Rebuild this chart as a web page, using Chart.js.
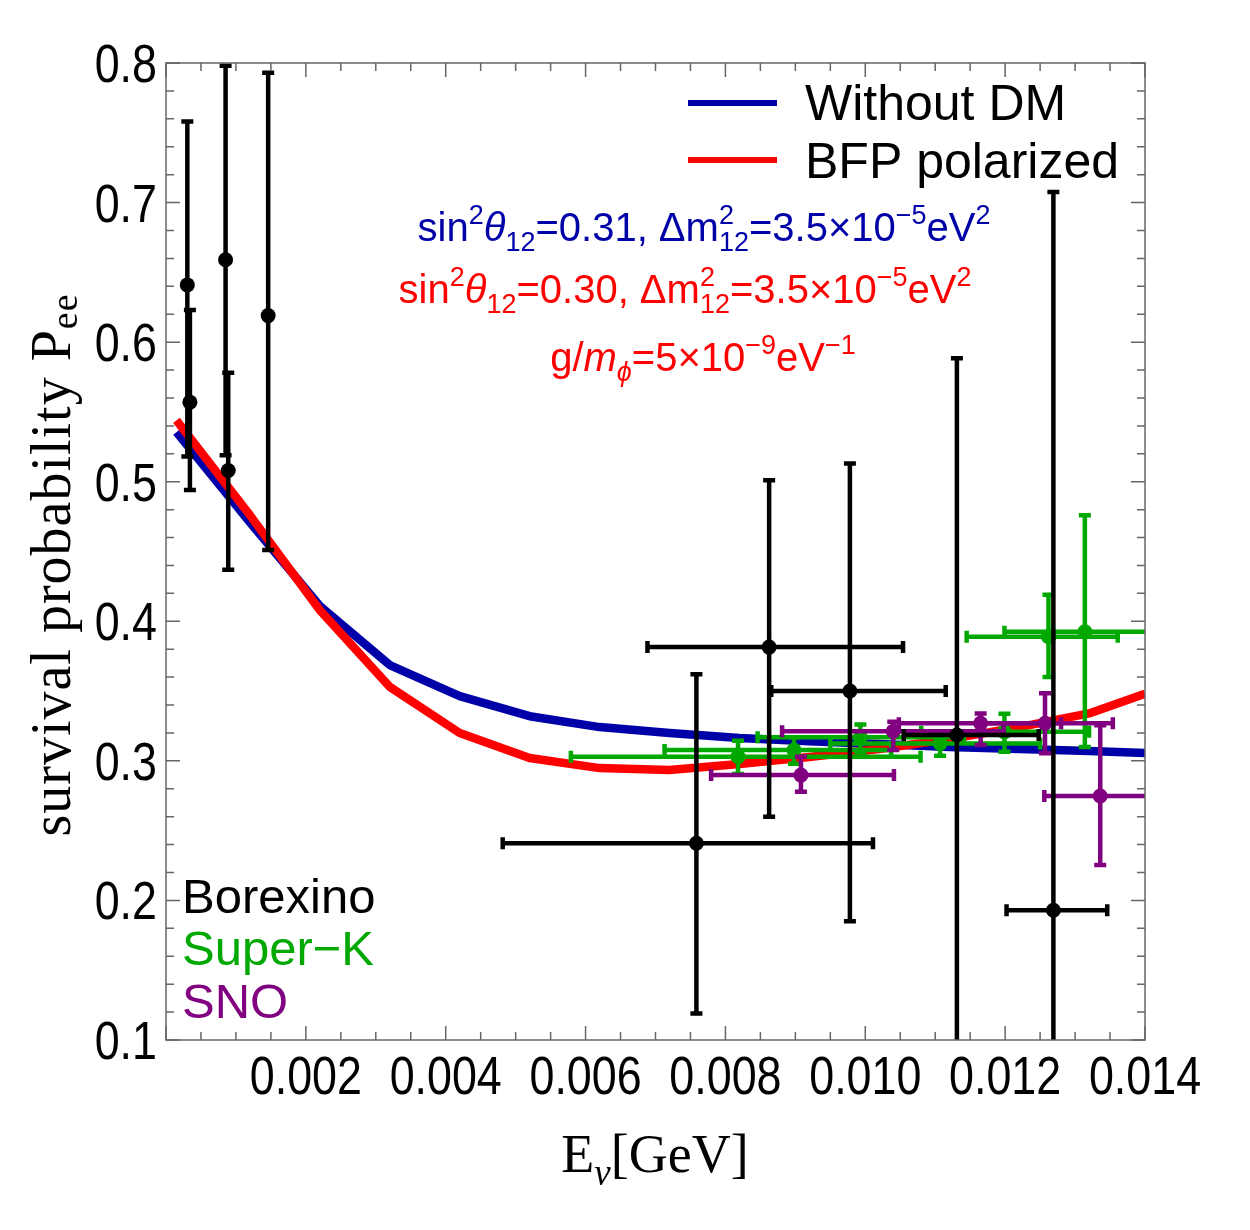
<!DOCTYPE html>
<html>
<head>
<meta charset="utf-8">
<script src="https://cdn.jsdelivr.net/npm/chart.js@4.4.0/dist/chart.umd.min.js"></script>
<style>
  html, body { margin: 0; padding: 0; background: #fff; }
</style>
</head>
<body>
<canvas id="chartPee" width="1250" height="1230"></canvas>
<script>
"use strict";

// model curves (E in GeV)
var curveE = [0.00015, 0.0012, 0.0022, 0.0032, 0.0042, 0.0052, 0.0062, 0.0072,
              0.0082, 0.0092, 0.0102, 0.0112, 0.0122, 0.0132, 0.014];
var withoutDM = [0.5355, 0.471, 0.411, 0.3686, 0.3464, 0.332, 0.3242, 0.32,
                 0.3163, 0.314, 0.312, 0.31, 0.3085, 0.307, 0.3056];
var bfpPolarized = [0.544, 0.476, 0.408, 0.353, 0.32, 0.302, 0.2948, 0.2934,
                    0.2977, 0.3027, 0.3085, 0.3156, 0.3242, 0.334, 0.348];

// Borexino
var borexinoE   = [0.000305, 0.000342, 0.000852, 0.00089, 0.001461, 0.007585, 0.008625, 0.00978, 0.01131, 0.01269];
var borexinoP   = [0.641, 0.557, 0.659, 0.508, 0.619, 0.241, 0.3815, 0.35, 0.3185, 0.193];
var borexinoPLo = [0.518, 0.494, 0.519, 0.437, 0.451, 0.119, 0.26, 0.185, 0.049, -0.32];
var borexinoPHi = [0.758, 0.623, 0.798, 0.578, 0.793, 0.362, 0.501, 0.513, 0.5885, 0.7075];
var borexinoELo = [null, null, null, null, null, 0.004815, 0.006885, 0.008655, 0.01055, 0.01202];
var borexinoEHi = [null, null, null, null, null, 0.01011, 0.01054, 0.01115, 0.01248, 0.01346];

// Super-K
var superkE   = [0.00818, 0.00898, 0.00993, 0.01107, 0.01199, 0.01262, 0.01314];
var superkP   = [0.303, 0.3077, 0.317, 0.3125, 0.3208, 0.389, 0.3925];
var superkPLo = [0.2905, 0.298, 0.306, 0.3037, 0.3065, 0.36, 0.31];
var superkPHi = [0.3144, 0.317, 0.326, 0.32, 0.3337, 0.419, 0.476];
var superkELo = [0.00579, 0.00713, 0.00846, 0.0095, 0.0108, 0.01145, 0.01199];
var superkEHi = [0.01079, 0.01037, 0.01141, 0.0125, 0.0132, 0.01361, 0.0143];

// SNO
var snoE   = [0.00908, 0.0104, 0.01165, 0.01257, 0.01336];
var snoP   = [0.2898, 0.3213, 0.3269, 0.3269, 0.2748];
var snoPLo = [0.2779, 0.3077, 0.3113, 0.3054, 0.2254];
var snoPHi = [0.303, 0.328, 0.334, 0.3484, 0.3256];
var snoELo = [0.007795, 0.00881, 0.01048, 0.01161, 0.01256];
var snoEHi = [0.01041, 0.01198, 0.0128, 0.01354, 0.01429];

var xTicks = [0.002, 0.004, 0.006, 0.008, 0.010, 0.012, 0.014];
var yTicks = [0.1, 0.2, 0.3, 0.4, 0.5, 0.6, 0.7, 0.8];

var BLUE = "#0000a8", RED = "#ff0000", GREEN = "#00a800", PURPLE = "#800080";
var SANS = "'Liberation Sans', Arial, sans-serif";
var SERIF = "'Liberation Serif', 'Times New Roman', serif";

function curvePoints(xs, ys) {
  return xs.map((x, i) => ({x: x, y: ys[i]}));
}

function errPoints(e, p, pLo, pHi, eLo, eHi) {
  return e.map((x, i) => ({
    x: x, y: p[i], yMin: pLo[i], yMax: pHi[i], xMin: eLo[i], xMax: eHi[i]
  }));
}

function pointSet(label, color, data) {
  return {
    label: label, data: data, showLine: false,
    pointRadius: 7.5, pointHoverRadius: 7.5, borderWidth: 0,
    backgroundColor: color, borderColor: color, errColor: color
  };
}

function curveSet(label, color, data) {
  return {
    label: label, data: data, showLine: true, pointRadius: 0,
    borderColor: color, backgroundColor: color, borderWidth: 8.5,
    tension: 0, borderJoinStyle: "round", clip: 0
  };
}

// rich text: parts = [[text, kind]], kind: "", "i", "sup", "sub", "isub", "stack"
function fontFor(kind, size, family) {
  var small = (kind === "sup" || kind === "sub" || kind === "isub" || kind === "stack");
  var s = small ? Math.round(size * 0.68) : size;
  var style = (kind === "i" || kind === "isub") ? "italic " : "";
  return style + s + "px " + family;
}

function partWidth(ctx, part, size, family) {
  ctx.font = fontFor(part[1], size, family);
  if (part[1] === "stack") {
    return Math.max(ctx.measureText(part[0][0]).width, ctx.measureText(part[0][1]).width);
  }
  return ctx.measureText(part[0]).width;
}

function drawRich(ctx, parts, x, y, size, color, family, subDrop) {
  var drop = subDrop == null ? 0.24 : subDrop;
  var total = parts.reduce((sum, p) => sum + partWidth(ctx, p, size, family), 0);
  var cx = x - total / 2;
  ctx.fillStyle = color;
  ctx.textBaseline = "alphabetic";
  ctx.textAlign = "left";
  parts.forEach(function(p) {
    var w = partWidth(ctx, p, size, family);
    ctx.font = fontFor(p[1], size, family);
    if (p[1] === "sup") {
      ctx.fillText(p[0], cx, y - size * 0.42);
    } else if (p[1] === "sub" || p[1] === "isub") {
      ctx.fillText(p[0], cx, y + size * drop);
    } else if (p[1] === "stack") {
      ctx.fillText(p[0][0], cx, y - size * 0.42);
      ctx.fillText(p[0][1], cx, y + size * drop);
    } else {
      ctx.fillText(p[0], cx, y);
    }
    cx += w;
  });
}

// condensed tick label, anchored by the scale's own pixel positions
function drawSquashed(ctx, text, x, y, align) {
  ctx.save();
  ctx.translate(x, y);
  ctx.scale(0.83, 1);
  ctx.font = "54px " + SANS;
  ctx.fillStyle = "#000";
  ctx.textAlign = align;
  ctx.textBaseline = "alphabetic";
  ctx.fillText(text, 0, 0);
  ctx.restore();
}

var errorBarPlugin = {
  id: "errorBars",
  beforeDatasetDraw: function(chart, args) {
    var ds = chart.data.datasets[args.index];
    if (!ds.errColor) return;
    var ctx = chart.ctx, xs = chart.scales.x, ys = chart.scales.y, a = chart.chartArea;
    var cap = 6;
    ctx.save();
    ctx.beginPath();
    ctx.rect(a.left, a.top, a.right - a.left, a.bottom - a.top);
    ctx.clip();
    ctx.strokeStyle = ds.errColor;
    ctx.lineWidth = 4.5;
    ds.data.forEach(function(d) {
      var px = xs.getPixelForValue(d.x), py = ys.getPixelForValue(d.y);
      var y1 = ys.getPixelForValue(d.yMin), y2 = ys.getPixelForValue(d.yMax);
      ctx.beginPath();
      ctx.moveTo(px, y1); ctx.lineTo(px, y2);
      ctx.moveTo(px - cap, y1); ctx.lineTo(px + cap, y1);
      ctx.moveTo(px - cap, y2); ctx.lineTo(px + cap, y2);
      if (d.xMin != null) {
        var x1 = xs.getPixelForValue(d.xMin), x2 = xs.getPixelForValue(d.xMax);
        ctx.moveTo(x1, py); ctx.lineTo(x2, py);
        ctx.moveTo(x1, py - cap); ctx.lineTo(x1, py + cap);
        ctx.moveTo(x2, py - cap); ctx.lineTo(x2, py + cap);
      }
      ctx.stroke();
    });
    ctx.restore();
  }
};

var framePlugin = {
  id: "frame",
  afterDraw: function(chart) {
    var ctx = chart.ctx, xs = chart.scales.x, ys = chart.scales.y, a = chart.chartArea;
    ctx.save();
    ctx.strokeStyle = "#666";
    ctx.lineWidth = 1.5;
    ctx.strokeRect(a.left, a.top, a.right - a.left, a.bottom - a.top);
    ctx.beginPath();
    // x ticks every 0.0005, major every 0.002
    for (var i = 0; i <= 28; i++) {
      var px = xs.getPixelForValue(i * 0.0005);
      var len = (i % 4 === 0) ? 14 : 8;
      ctx.moveTo(px, a.bottom); ctx.lineTo(px, a.bottom - len);
      ctx.moveTo(px, a.top); ctx.lineTo(px, a.top + len);
    }
    // y ticks every 0.02, major every 0.1
    for (var j = 0; j <= 35; j++) {
      var py = ys.getPixelForValue(0.1 + j * 0.02);
      var ylen = (j % 5 === 0) ? 14 : 8;
      ctx.moveTo(a.left, py); ctx.lineTo(a.left + ylen, py);
      ctx.moveTo(a.right, py); ctx.lineTo(a.right - ylen, py);
    }
    ctx.stroke();
    ctx.restore();

    // tick labels
    xTicks.forEach(v => drawSquashed(ctx, v.toFixed(3), xs.getPixelForValue(v), a.bottom + 54, "center"));
    yTicks.forEach(v => drawSquashed(ctx, v.toFixed(1), a.left - 9, ys.getPixelForValue(v) + 19, "right"));

    // legend
    ctx.save();
    ctx.lineWidth = 6;
    ctx.strokeStyle = BLUE;
    ctx.beginPath(); ctx.moveTo(688, 103); ctx.lineTo(777, 103); ctx.stroke();
    ctx.strokeStyle = RED;
    ctx.beginPath(); ctx.moveTo(688, 160); ctx.lineTo(777, 160); ctx.stroke();
    ctx.fillStyle = "#000";
    ctx.font = "50px " + SANS;
    ctx.textBaseline = "alphabetic";
    ctx.fillText("Without DM", 805, 120);
    ctx.fillText("BFP polarized", 805, 178);

    // parameter notes
    drawRich(ctx, [["sin", ""], ["2", "sup"], ["θ", "i"], ["12", "sub"], ["=0.31, Δm", ""],
                   [["2", "12"], "stack"], ["=3.5×10", ""], ["−5", "sup"], ["eV", ""], ["2", "sup"]],
             704, 241, 40, BLUE, SANS);
    drawRich(ctx, [["sin", ""], ["2", "sup"], ["θ", "i"], ["12", "sub"], ["=0.30, Δm", ""],
                   [["2", "12"], "stack"], ["=3.5×10", ""], ["−5", "sup"], ["eV", ""], ["2", "sup"]],
             685, 303, 40, RED, SANS);
    drawRich(ctx, [["g/", ""], ["m", "i"], ["ϕ", "isub"], ["=5×10", ""], ["−9", "sup"],
                   ["eV", ""], ["−1", "sup"]],
             703, 371, 40, RED, SANS);

    // experiment labels
    ctx.font = "49px " + SANS;
    ctx.fillStyle = "#000"; ctx.fillText("Borexino", 182, 913);
    ctx.fillStyle = GREEN; ctx.fillText("Super\u2212K", 182, 965);
    ctx.fillStyle = PURPLE; ctx.fillText("SNO", 182, 1018);

    // axis titles
    drawRich(ctx, [["E", ""], ["ν", "isub"], ["[GeV]", ""]], 655, 1172, 54, "#000", SERIF);
    ctx.translate(70, 565);
    ctx.rotate(-Math.PI / 2);
    ctx.letterSpacing = "1px";
    drawRich(ctx, [["survival probability P", ""], ["ee", "sub"]], 0, 0, 56, "#000", SERIF, 0.12);
    ctx.restore();
  }
};

var chartPee = new Chart("chartPee", {
  type: "scatter",
  data: {
    datasets: [
      pointSet("Borexino", "#000", errPoints(borexinoE, borexinoP, borexinoPLo, borexinoPHi, borexinoELo, borexinoEHi)),
      pointSet("SNO", PURPLE, errPoints(snoE, snoP, snoPLo, snoPHi, snoELo, snoEHi)),
      pointSet("Super-K", GREEN, errPoints(superkE, superkP, superkPLo, superkPHi, superkELo, superkEHi)),
      curveSet("BFP polarized", RED, curvePoints(curveE, bfpPolarized)),
      curveSet("Without DM", BLUE, curvePoints(curveE, withoutDM))
    ]
  },
  options: {
    responsive: false,
    animation: false,
    devicePixelRatio: 1,
    layout: { padding: { left: 0, top: 63, right: 105, bottom: 0 } },
    plugins: { legend: { display: false }, tooltip: { enabled: false } },
    scales: {
      x: {
        type: "linear", min: 0, max: 0.014,
        grid: { display: false, drawTicks: false }, border: { display: false },
        afterFit: function(scale) { scale.height = 190; },
        afterBuildTicks: function(scale) { scale.ticks = xTicks.map(v => ({value: v})); },
        ticks: { display: false }
      },
      y: {
        type: "linear", min: 0.1, max: 0.8,
        grid: { display: false, drawTicks: false }, border: { display: false },
        afterFit: function(scale) { scale.width = 166; },
        afterBuildTicks: function(scale) { scale.ticks = yTicks.map(v => ({value: v})); },
        ticks: { display: false }
      }
    }
  },
  plugins: [errorBarPlugin, framePlugin]
});
</script>
</body>
</html>
